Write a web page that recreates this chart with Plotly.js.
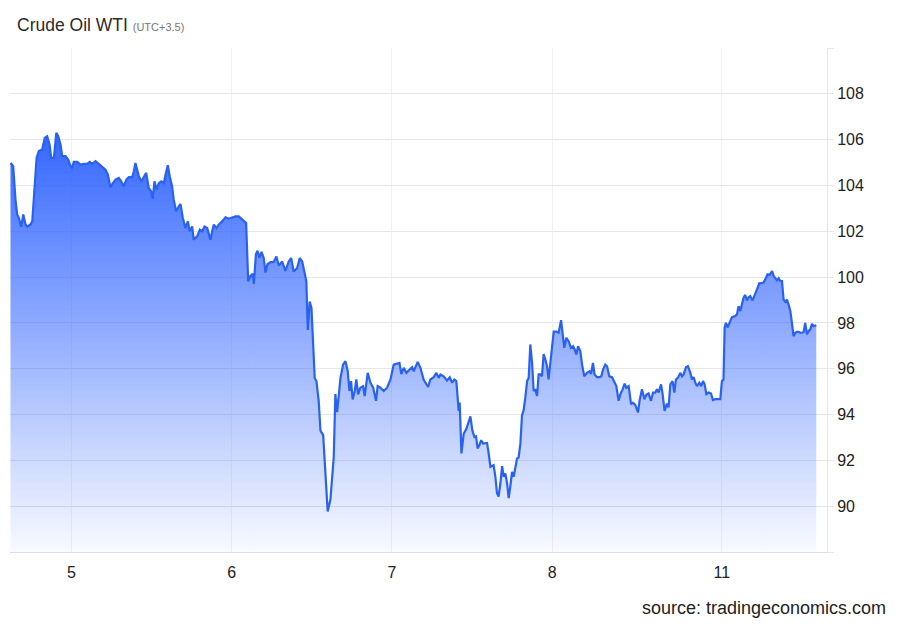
<!DOCTYPE html>
<html>
<head>
<meta charset="utf-8">
<script src="https://cdn.plot.ly/plotly-3.0.1.min.js"></script>
<style>html,body{margin:0;padding:0;background:#fff;}#chart{width:900px;height:624px;}</style>
</head>
<body>
<div id="chart"></div>
<script>
// Time position in trading-day units (0 = day "5" tick)
const times = [-0.381,-0.364,-0.349,-0.339,-0.329,-0.314,-0.301,-0.287,-0.276,-0.256,-0.245,-0.235,-0.218,-0.204,-0.183,-0.167,-0.152,-0.137,-0.127,-0.110,-0.095,-0.083,-0.069,-0.058,-0.037,-0.021,-0.006,0.004,0.014,0.036,0.056,0.077,0.098,0.114,0.129,0.150,0.170,0.192,0.212,0.227,0.243,0.258,0.275,0.295,0.310,0.326,0.343,0.358,0.379,0.389,0.399,0.410,0.420,0.437,0.451,0.466,0.482,0.497,0.507,0.518,0.530,0.545,0.560,0.576,0.587,0.601,0.613,0.628,0.638,0.653,0.670,0.680,0.695,0.711,0.726,0.738,0.753,0.763,0.784,0.801,0.816,0.830,0.847,0.857,0.867,0.878,0.888,0.905,0.919,0.940,0.961,0.982,1.003,1.023,1.044,1.059,1.075,1.090,1.103,1.117,1.131,1.138,1.151,1.161,1.173,1.186,1.200,1.211,1.223,1.242,1.262,1.279,1.294,1.315,1.335,1.356,1.371,1.387,1.408,1.425,1.440,1.454,1.466,1.475,1.487,1.498,1.508,1.518,1.529,1.543,1.554,1.571,1.585,1.599,1.616,1.637,1.647,1.658,1.679,1.695,1.710,1.724,1.735,1.745,1.755,1.768,1.778,1.789,1.803,1.820,1.830,1.849,1.866,1.883,1.901,1.911,1.928,1.949,1.970,1.991,2.011,2.032,2.047,2.059,2.074,2.090,2.111,2.126,2.136,2.161,2.178,2.198,2.226,2.240,2.261,2.278,2.292,2.303,2.323,2.344,2.361,2.376,2.390,2.402,2.417,2.423,2.434,2.448,2.465,2.479,2.490,2.502,2.515,2.525,2.535,2.546,2.557,2.569,2.583,2.594,2.604,2.615,2.635,2.646,2.656,2.666,2.677,2.688,2.698,2.708,2.719,2.729,2.739,2.750,2.760,2.771,2.781,2.791,2.802,2.812,2.822,2.833,2.844,2.854,2.864,2.875,2.885,2.895,2.906,2.916,2.927,2.937,2.947,2.958,2.968,2.978,2.993,3.010,3.026,3.041,3.056,3.066,3.076,3.089,3.103,3.118,3.131,3.141,3.151,3.162,3.176,3.187,3.201,3.218,3.234,3.243,3.255,3.265,3.280,3.297,3.307,3.318,3.332,3.343,3.357,3.374,3.388,3.401,3.415,3.426,3.440,3.453,3.463,3.478,3.493,3.505,3.519,3.536,3.546,3.561,3.576,3.588,3.602,3.617,3.630,3.644,3.655,3.665,3.680,3.690,3.702,3.717,3.727,3.738,3.752,3.763,3.773,3.786,3.800,3.811,3.821,3.836,3.848,3.863,3.873,3.883,3.894,3.904,3.919,3.931,3.942,3.952,3.963,3.977,3.992,4.004,4.019,4.033,4.050,4.060,4.070,4.077,4.085,4.095,4.108,4.123,4.143,4.154,4.164,4.175,4.185,4.195,4.206,4.216,4.227,4.237,4.251,4.264,4.279,4.293,4.306,4.320,4.335,4.345,4.358,4.373,4.383,4.393,4.404,4.414,4.424,4.435,4.445,4.456,4.466,4.476,4.487,4.497,4.507,4.518,4.528,4.539,4.549,4.560,4.570,4.580,4.591,4.601,4.612,4.622,4.632,4.649];

const prices = [104.98,104.84,103.3,102.74,102.58,102.2,102.73,102.3,102.2,102.3,102.43,103.45,105.2,105.5,105.57,106.08,106.15,105.79,105.2,105.2,106.3,106.15,105.8,105.28,105.28,105.13,104.84,104.76,105.03,105.03,104.91,104.94,104.94,105.03,104.94,105.06,104.94,104.84,104.69,104.47,103.92,104.1,104.26,104.33,104.18,103.96,104.26,104.36,104.36,104.62,104.98,104.69,104.4,104.18,104.33,104.55,103.89,103.74,103.42,104.18,103.82,104.1,104.18,104.1,104.47,104.88,104.4,103.96,103.38,102.87,103.09,103.19,102.58,102.14,102.43,102.0,102.21,101.63,101.78,102.07,102.0,102.21,102.14,101.92,101.63,102.0,102.29,102.14,102.29,102.43,102.61,102.55,102.61,102.65,102.65,102.55,102.43,102.36,99.81,100.05,100.15,99.7,101.0,101.15,100.85,101.1,100.83,100.2,100.56,100.65,100.66,100.9,100.5,100.68,100.27,100.68,100.83,100.24,100.39,100.83,100.68,100.24,99.81,97.69,98.93,98.64,97.18,95.6,95.45,94.6,93.3,93.1,91.43,89.77,90.28,92.15,94.9,94.1,95.6,96.18,96.33,95.9,95.03,95.46,94.66,95.03,95.53,94.88,95.17,95.24,94.81,95.82,95.39,95.17,94.6,95.24,95.17,95.03,95.17,95.53,96.18,96.23,96.25,95.77,96.04,95.82,95.96,96.07,95.89,96.3,96.04,95.53,95.21,95.53,95.63,95.82,95.6,95.75,95.67,95.49,95.63,95.39,95.53,95.46,94.16,94.52,92.3,93.16,93.38,93.67,93.92,93.31,93.02,93.05,92.52,92.66,92.88,92.73,92.73,92.76,92.3,91.72,91.79,91.28,90.57,90.42,90.99,91.75,91.28,91.43,90.99,90.35,90.86,91.5,91.28,91.72,92.08,92.12,92.73,93.96,94.18,94.76,95.46,95.61,97.06,96.26,95.03,95.1,94.81,95.75,95.75,95.67,96.64,96.4,96.12,95.53,96.52,97.62,97.62,97.57,98.12,97.5,96.91,97.35,97.2,96.91,96.98,96.84,96.62,96.98,96.77,96.18,95.67,95.82,95.89,95.77,96.25,95.75,95.63,95.63,95.67,95.96,96.18,96.11,95.67,95.63,95.46,95.24,94.6,94.88,95.1,95.35,95.17,95.24,94.45,94.52,94.42,94.09,94.6,95.1,94.67,94.86,94.92,94.6,94.96,94.96,95.1,94.96,95.32,94.89,94.16,94.48,94.31,95.32,95.46,94.96,95.53,95.61,95.82,95.67,95.75,96.07,96.11,95.82,95.53,95.63,95.39,95.24,95.39,95.24,95.46,95.32,94.89,94.96,94.92,94.63,94.67,94.67,94.67,95.46,95.53,97.8,98.0,97.8,98.0,98.25,98.3,98.37,98.73,98.52,98.81,99.1,99.22,98.98,99.12,99.17,98.98,99.17,99.46,99.73,99.73,99.75,99.97,100.12,100.1,100.26,100.05,99.97,99.86,99.95,99.83,99.83,99.02,98.92,99.02,98.81,98.52,98.0,97.42,97.57,97.61,97.61,97.57,97.57,97.6,98.0,97.5,97.64,97.72,97.96,97.86,97.9];

const xTickVals = [0, 1, 2, 3, 4.06];
const xTickText = ['5', '6', '7', '8', '11'];
const yTickVals = [88, 90, 92, 94, 96, 98, 100, 102, 104, 106, 108, 110];
const yTickText = ['', '90', '92', '94', '96', '98', '100', '102', '104', '106', '108', ''];

const trace = {
  x: times,
  y: prices,
  type: 'scatter',
  mode: 'lines',
  line: {color: 'rgb(41,98,240)', width: 2.2},
  fill: 'tozeroy',
  fillcolor: 'rgba(51,102,255,0.5)',
  fillgradient: {
    type: 'vertical',
    start: 88,
    stop: 106.4,
    colorscale: [[0, 'rgba(51,102,255,0.03)'], [1, 'rgba(51,102,255,1)']]
  },
  hoverinfo: 'x+y'
};

const layout = {
  width: 900,
  height: 624,
  margin: {l: 10, r: 73, t: 48, b: 72},
  paper_bgcolor: '#ffffff',
  plot_bgcolor: '#ffffff',
  showlegend: false,
  font: {family: '"Liberation Sans", Arial, sans-serif', color: '#222'},
  title: {
    text: 'Crude Oil WTI <span style="font-size:11px;color:#777">(UTC+3.5)</span>',
    font: {size: 17.5, color: '#2b2b2b', family: '"Liberation Sans", Arial, sans-serif'},
    xref: 'container', yref: 'container',
    x: 17 / 900, xanchor: 'left',
    y: 1 - 25 / 624, yanchor: 'middle'
  },
  xaxis: {
    range: [-0.384, 4.716],
    tickvals: xTickVals,
    ticktext: xTickText,
    showgrid: true,
    gridcolor: '#edf1f4',
    gridwidth: 1,
    showline: true,
    linecolor: '#dedede',
    linewidth: 1,
    ticks: '',
    ticklabelstandoff: 6,
    zeroline: false,
    tickfont: {size: 16, color: '#222'},
    fixedrange: true
  },
  yaxis: {
    side: 'right',
    range: [88, 110],
    tickvals: yTickVals,
    ticktext: yTickText,
    showgrid: true,
    gridcolor: '#e6e6e6',
    gridwidth: 1,
    showline: true,
    linecolor: '#e6e6e6',
    linewidth: 1,
    ticks: 'outside',
    ticklen: 6,
    tickcolor: '#e6e6e6',
    zeroline: false,
    tickfont: {size: 16, color: '#222'},
    fixedrange: true
  },
  annotations: [{
    text: 'source: tradingeconomics.com',
    xref: 'paper', yref: 'paper',
    x: (888 - 10) / 817,
    xanchor: 'right',
    y: 0, yanchor: 'middle',
    yshift: -(608 - 552),
    showarrow: false,
    font: {size: 18, color: '#222', family: '"Liberation Sans", Arial, sans-serif'}
  }]
};

Plotly.newPlot('chart', [trace], layout, {displayModeBar: false, staticPlot: true});
</script>
</body>
</html>
